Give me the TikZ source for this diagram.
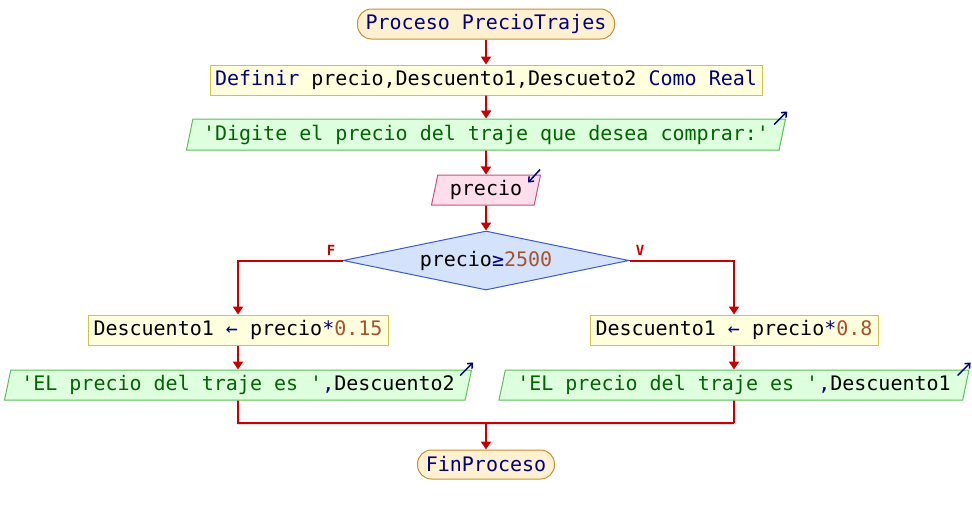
\documentclass[tikz,border=0pt]{standalone}
\usepackage{fontspec}
\setmonofont{DejaVu Sans Mono}
\usetikzlibrary{arrows.meta,shapes.geometric}
\definecolor{flecha}{RGB}{200,0,0}
\definecolor{azul}{RGB}{0,0,128}
\definecolor{verde}{RGB}{0,100,0}
\definecolor{marron}{RGB}{165,82,45}
\definecolor{bordeinicio}{RGB}{200,140,50}
\definecolor{rellenoinicio}{RGB}{255,241,208}
\definecolor{bordeasigna}{RGB}{205,195,70}
\definecolor{rellenoasigna}{RGB}{255,255,221}
\definecolor{bordesalida}{RGB}{90,190,90}
\definecolor{rellenosalida}{RGB}{221,255,221}
\definecolor{bordeentrada}{RGB}{200,80,130}
\definecolor{rellenoentrada}{RGB}{255,221,235}
\definecolor{bordedecision}{RGB}{60,90,200}
\definecolor{rellenodecision}{RGB}{212,226,252}
\newcommand{\pkw}[1]{\textcolor{azul}{#1}}
\newcommand{\pstr}[1]{\textcolor{verde}{#1}}
\newcommand{\pnum}[1]{\textcolor{marron}{#1}}
\tikzset{
  base/.style={font=\fontsize{20}{24}\selectfont\ttfamily, minimum height=30pt, inner sep=0pt, line width=1pt},
  inicio/.style={base, draw=bordeinicio, fill=rellenoinicio, rounded corners=14pt},
  asigna/.style={base, rectangle, draw=bordeasigna, fill=rellenoasigna},
  salida/.style={base, trapezium, trapezium left angle=72, trapezium right angle=108, trapezium stretches body, draw=bordesalida, fill=rellenosalida},
  entrada/.style={salida, draw=bordeentrada, fill=rellenoentrada},
  decision/.style={base, diamond, aspect=4.85, draw=bordedecision, fill=rellenodecision},
  flujo/.style={draw=flecha, line width=2pt, -{Triangle[length=8pt,width=10pt]}},
  linea/.style={draw=flecha, line width=2pt},
  esquina/.style={draw=azul, line width=1.5pt, -{Straight Barb[length=4pt,width=7pt]}},
  rotulo/.style={font=\fontsize{14}{16}\selectfont\ttfamily\bfseries, text=flecha}
}
\begin{document}
\begin{tikzpicture}[x=1pt,y=-1pt]
\useasboundingbox (0,0) rectangle (972,515);
\node [inicio, minimum width=257pt] (ini) at (486,24) {\pkw{Proceso PrecioTrajes}};
\node [asigna, minimum width=552pt] (def) at (486,80) {\pkw{Definir} precio,Descuento1,Descueto2 \pkw{Como Real}};
\node [salida, minimum width=599pt, minimum height=31pt] (out1) at (486,134.5) {\pstr{'Digite el precio del traje que desea comprar:'}};
\node [entrada, minimum width=109pt] (prec) at (486,190) {precio};
\node [decision, minimum width=286pt, minimum height=59pt] (dec) at (486,260.5) {precio\pkw{≥}\pnum{2500}};
\node [asigna, minimum width=300pt] (asi1) at (238,330) {Descuento1 \pkw{←} precio\pkw{*}\pnum{0.15}};
\node [salida, minimum width=467pt] (sal1) at (238,385) {\pstr{'EL precio del traje es '}\pkw{,}Descuento2};
\node [asigna, minimum width=288pt] (asi2) at (734,330) {Descuento1 \pkw{←} precio\pkw{*}\pnum{0.8}};
\node [salida, minimum width=470pt] (sal2) at (734,385) {\pstr{'EL precio del traje es '}\pkw{,}Descuento1};
\node [inicio, minimum width=137pt, minimum height=29pt] (fin) at (486,464.5) {\pkw{FinProceso}};
\node [rotulo] (lf) at (331,250) {F};
\node [rotulo] (lv) at (640,250) {V};
\coordinate (m1) at (238,423);
\coordinate (m0) at (486,423);
\coordinate (m2) at (734,423);
\draw [flujo] (ini) -- (def);
\draw [flujo] (def) -- (out1);
\draw [flujo] (out1) -- (prec);
\draw [flujo] (prec) -- (dec);
\draw [flujo] (dec.west) -| (asi1.north);
\draw [flujo] (dec.east) -| (asi2.north);
\draw [flujo] (asi1) -- (sal1);
\draw [flujo] (asi2) -- (sal2);
\draw [linea] (sal1.south) -- (m1) -- (m2);
\draw [linea] (sal2.south) -- (m2);
\draw [flujo] (m0) -- (fin);
\draw [esquina] ([shift={(-12,6)}]out1.top right corner) -- ([shift={(1,-7)}]out1.top right corner);
\draw [esquina] ([shift={(-1,-5)}]prec.top right corner) -- ([shift={(-13,8)}]prec.top right corner);
\draw [esquina] ([shift={(-12,6)}]sal1.top right corner) -- ([shift={(1,-7)}]sal1.top right corner);
\draw [esquina] ([shift={(-12,6)}]sal2.top right corner) -- ([shift={(1,-7)}]sal2.top right corner);
\end{tikzpicture}
\end{document}
